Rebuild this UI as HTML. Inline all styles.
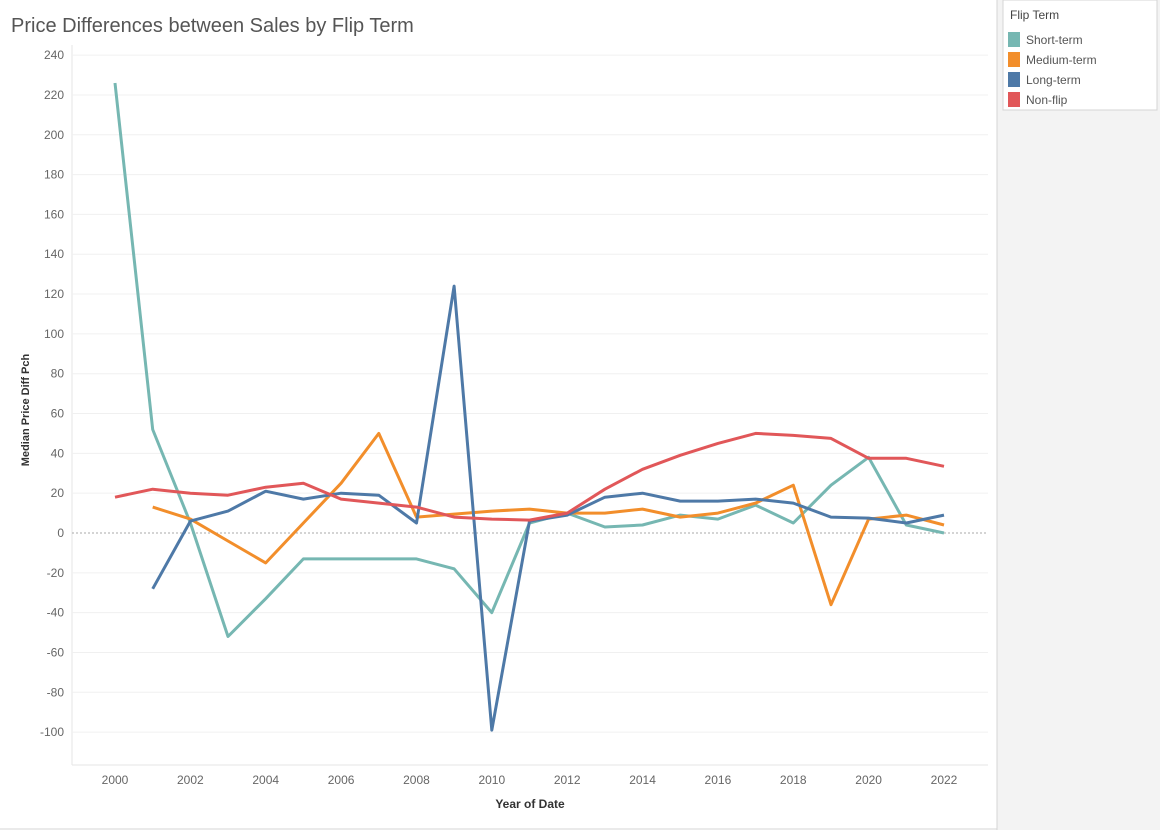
<!DOCTYPE html>
<html><head><meta charset="utf-8"><style>
body{margin:0;width:1160px;height:830px;overflow:hidden;background:#fff;font-family:"Liberation Sans",sans-serif}
svg{position:absolute;left:0;top:0}
</style></head><body>
<svg id="c" width="1160" height="830">
<rect x="997" y="0" width="163" height="830" fill="#f3f3f3"/>
<line x1="997" y1="0" x2="997" y2="830" stroke="#d4d4d4"/>
<line x1="0" y1="829" x2="997" y2="829" stroke="#d4d4d4"/>
<text x="11" y="32" font-size="20" fill="#555">Price Differences between Sales by Flip Term</text>
<g>
<rect x="1003" y="0" width="154" height="110" fill="#fff" stroke="#d4d4d4"/>
<text x="1010" y="19" font-size="12" fill="#444">Flip Term</text>
</g>
<g id="grid"></g><g id="plot"></g>
<text x="530" y="808" font-size="12" font-weight="bold" fill="#333" text-anchor="middle">Year of Date</text>
<text transform="translate(29,410) rotate(-90)" font-size="11" font-weight="bold" fill="#333" text-anchor="middle">Median Price Diff Pch</text>
</svg>
<script>
const years=[2000,2001,2002,2003,2004,2005,2006,2007,2008,2009,2010,2011,2012,2013,2014,2015,2016,2017,2018,2019,2020,2021,2022];
const shortTerm=[226,52,5,-52,-33,-13,-13,-13,-13,-18,-40,5,10,3,4,9,7,14,5,24,38,4,0];
const mediumTerm=[null,13,7,-4,-15,5,25,50,8,9.5,11,12,10,10,12,8,10,15,24,-36,7,9,4];
const longTerm=[null,-28,6,11,21,17,20,19,5,124,-99,6,9,18,20,16,16,17,15,8,7.5,5,9];
const nonFlip=[18,22,20,19,23,25,17,15,13,8,7,6.5,10,22,32,39,45,50,49,47.5,37.5,37.5,33.5];
const yTicks=[240,220,200,180,160,140,120,100,80,60,40,20,0,-20,-40,-60,-80,-100];
const xTicks=[2000,2002,2004,2006,2008,2010,2012,2014,2016,2018,2020,2022];
const seriesNames=["Short-term","Medium-term","Long-term","Non-flip"];
const colors=["#76b7b2","#f28e2b","#4e79a7","#e15759"];
const NS="http://www.w3.org/2000/svg";
const X=y=>115+(y-2000)*(829/22);
const Y=v=>533-v*(677/340);
const grid=document.getElementById('grid'),plot=document.getElementById('plot'),svg=document.getElementById('c');
function mk(t,a,p){const e=document.createElementNS(NS,t);for(const k in a)e.setAttribute(k,a[k]);p.appendChild(e);return e;}
mk('line',{x1:72,y1:45,x2:72,y2:765,stroke:'#e6e6e6'},grid);
mk('line',{x1:72,y1:765,x2:988,y2:765,stroke:'#e6e6e6'},grid);
yTicks.forEach(v=>{
 const l=mk('line',{x1:72,x2:988,y1:Y(v),y2:Y(v),stroke:v===0?'#aaa':'#f0f0f0','stroke-dasharray':v===0?'2,2':''},grid);
 
 
 const t=mk('text',{x:64,y:Y(v)+4,'font-size':12,fill:'#666','text-anchor':'end'},grid);t.textContent=v;
 
 
});
xTicks.forEach(v=>{
 const t=mk('text',{x:X(v),y:784,'font-size':12,fill:'#666','text-anchor':'middle'},grid);t.textContent=v;
 
 
});
[shortTerm,mediumTerm,longTerm,nonFlip].forEach((s,i)=>{
 let d='';s.forEach((v,j)=>{if(v===null)return;d+=(d?'L':'M')+X(years[j]).toFixed(1)+','+Y(v).toFixed(1);});
 const p=mk('path',{d:d,fill:'none',stroke:colors[i],'stroke-width':3,'stroke-linejoin':'round'},plot);
 
 
 const r=mk('rect',{x:1008,y:32+i*20,width:12,height:15,fill:colors[i]},svg);
 
 
 const t=mk('text',{x:1026,y:44+i*20,'font-size':12,fill:'#555'},svg);t.textContent=seriesNames[i];
 
 
});
</script>
</body></html>
